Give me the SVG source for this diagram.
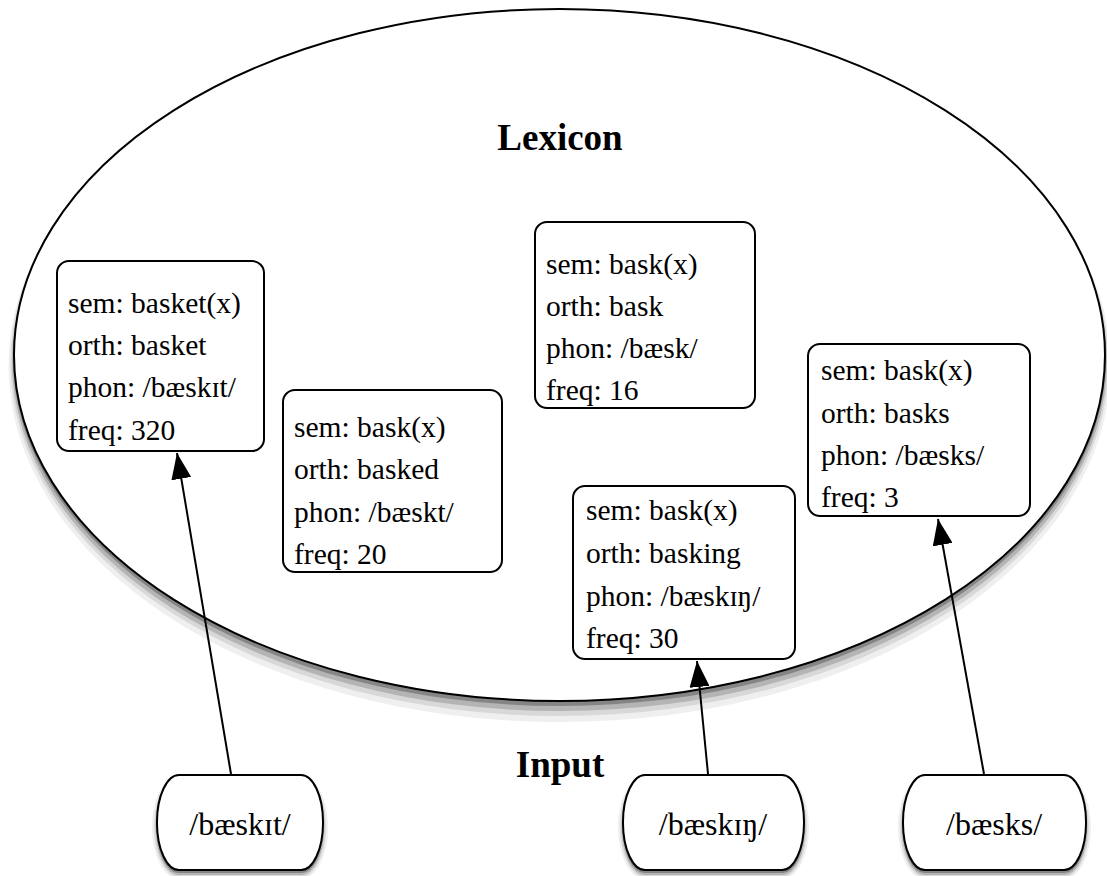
<svg xmlns="http://www.w3.org/2000/svg" width="1107" height="876" viewBox="0 0 1107 876">
<defs>
<style>
.t{font-family:"Liberation Serif","DejaVu Serif",serif;font-size:29.5px;fill:#000}
.n{font-family:"Liberation Serif","DejaVu Serif",serif;font-size:32px;fill:#000}
.h{font-family:"Liberation Serif","DejaVu Serif",serif;font-size:37px;font-weight:bold;fill:#000}
.box{fill:#fff;stroke:#000;stroke-width:2}
.conn{stroke:#000;stroke-width:2;fill:none}
.s1{fill:#efefef;stroke:none}
.s2{fill:#d8d8d8;stroke:none}
.s3{fill:#b4b4b4;stroke:none}
.s4{fill:#858585;stroke:none}
</style>
<marker id="ah" markerWidth="26" markerHeight="20" refX="26" refY="10" orient="auto" markerUnits="userSpaceOnUse">
<path d="M0,0 L26,10 L0,20 Z" fill="#000"/>
</marker>
</defs>
<rect width="1107" height="876" fill="#fff"/>
<g id="lexicon">
<ellipse cx="559.5" cy="366" rx="551" ry="356" class="s1"/>
<ellipse cx="559.5" cy="363" rx="549" ry="353" class="s2"/>
<ellipse cx="559.5" cy="361" rx="547.5" ry="350" class="s3"/>
<ellipse cx="559.5" cy="358" rx="546.5" ry="348" class="s4"/>
<ellipse cx="559.5" cy="355" rx="545.5" ry="346" class="box"/>
<text class="h" x="560" y="150" text-anchor="middle">Lexicon</text>
</g>
<g id="basket">
<rect x="57" y="261" width="207" height="190" rx="12" class="box"/>
<text class="t" x="68" y="313">sem: basket(x)</text>
<text class="t" x="68" y="355">orth: basket</text>
<text class="t" x="68" y="397">phon: /bæskɪt/</text>
<text class="t" x="68" y="440">freq: 320</text>
</g>
<g id="basked">
<rect x="283" y="390" width="219" height="182" rx="12" class="box"/>
<text class="t" x="294" y="437">sem: bask(x)</text>
<text class="t" x="294" y="479">orth: basked</text>
<text class="t" x="294" y="522">phon: /bæskt/</text>
<text class="t" x="294" y="564">freq: 20</text>
</g>
<g id="bask">
<rect x="535" y="222" width="220" height="186" rx="12" class="box"/>
<text class="t" x="546" y="274">sem: bask(x)</text>
<text class="t" x="546" y="316">orth: bask</text>
<text class="t" x="546" y="358">phon: /bæsk/</text>
<text class="t" x="546" y="400">freq: 16</text>
</g>
<g id="basking">
<rect x="573" y="486" width="222" height="173" rx="12" class="box"/>
<text class="t" x="586" y="520">sem: bask(x)</text>
<text class="t" x="586" y="563">orth: basking</text>
<text class="t" x="586" y="606">phon: /bæskɪŋ/</text>
<text class="t" x="586" y="648">freq: 30</text>
</g>
<g id="basks">
<rect x="808" y="344" width="222" height="172" rx="12" class="box"/>
<text class="t" x="821" y="380">sem: bask(x)</text>
<text class="t" x="821" y="423">orth: basks</text>
<text class="t" x="821" y="465">phon: /bæsks/</text>
<text class="t" x="821" y="507">freq: 3</text>
</g>
<g id="input-label">
<text class="h" x="560" y="777" text-anchor="middle">Input</text>
</g>
<g id="in-baeskit">
<rect x="152" y="776" width="176" height="103" rx="27" ry="51" class="s1"/>
<rect x="154" y="777" width="172" height="100" rx="25" ry="50" class="s2"/>
<rect x="155.5" y="777" width="169" height="98" rx="23" ry="48" class="s3"/>
<rect x="156.5" y="778" width="167" height="95" rx="22" ry="47" class="s4"/>
<rect x="157" y="775" width="166" height="95" rx="22" ry="47" class="box"/>
<text class="n" x="240" y="835" text-anchor="middle">/bæskɪt/</text>
</g>
<g id="in-baeskin">
<rect x="618" y="776" width="191" height="103" rx="27" ry="51" class="s1"/>
<rect x="620" y="777" width="187" height="100" rx="25" ry="50" class="s2"/>
<rect x="621.5" y="777" width="184" height="98" rx="23" ry="48" class="s3"/>
<rect x="622.5" y="778" width="182" height="95" rx="22" ry="47" class="s4"/>
<rect x="623" y="775" width="181" height="95" rx="22" ry="47" class="box"/>
<text class="n" x="713" y="835" text-anchor="middle">/bæskɪŋ/</text>
</g>
<g id="in-baesks">
<rect x="898" y="776" width="193" height="103" rx="27" ry="51" class="s1"/>
<rect x="900" y="777" width="189" height="100" rx="25" ry="50" class="s2"/>
<rect x="901.5" y="777" width="186" height="98" rx="23" ry="48" class="s3"/>
<rect x="902.5" y="778" width="184" height="95" rx="22" ry="47" class="s4"/>
<rect x="903" y="775" width="183" height="95" rx="22" ry="47" class="box"/>
<text class="n" x="994" y="835" text-anchor="middle">/bæsks/</text>
</g>
<g id="connectors">
<line x1="231" y1="774" x2="177" y2="453" class="conn" marker-end="url(#ah)"/>
<line x1="708" y1="774" x2="697" y2="661" class="conn" marker-end="url(#ah)"/>
<line x1="984" y1="774" x2="938" y2="519" class="conn" marker-end="url(#ah)"/>
</g>
</svg>
